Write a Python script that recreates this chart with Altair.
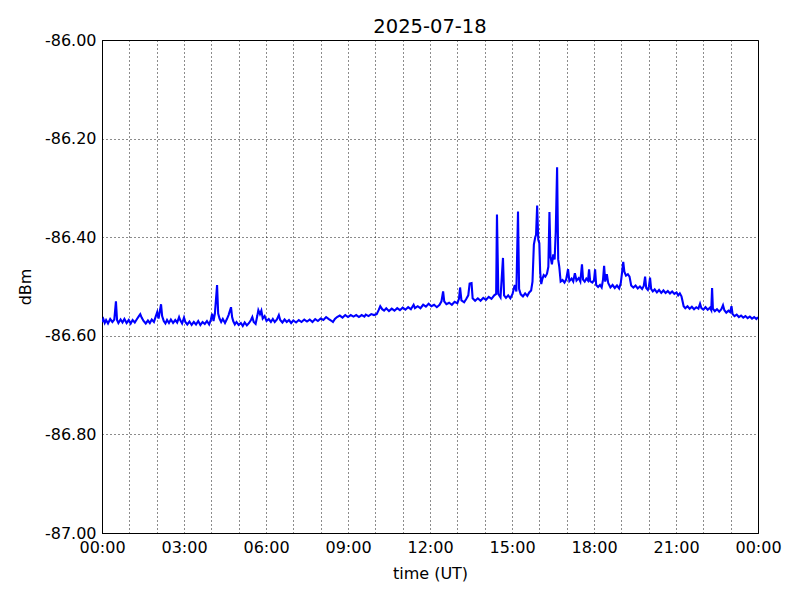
import altair as alt
import pandas as pd

# time of day (hours UT) and received level (dBm)
hours_a = [0.00, 0.05, 0.10, 0.15, 0.22, 0.30, 0.38, 0.45, 0.51, 0.55, 0.60, 0.68, 0.75, 0.82, 0.90, 0.98,
           1.05, 1.12, 1.20, 1.28, 1.35, 1.40, 1.45, 1.52, 1.60, 1.68, 1.75, 1.82, 1.90, 1.97, 2.02, 2.07,
           2.16, 2.20, 2.26, 2.32, 2.38, 2.45, 2.52, 2.60, 2.68, 2.75, 2.82, 2.86, 2.93, 3.00, 3.05, 3.12,
           3.20, 3.28, 3.36, 3.44, 3.52, 3.60, 3.68, 3.76, 3.84, 3.92, 3.98, 4.03, 4.08, 4.13, 4.21, 4.25,
           4.30, 4.36, 4.42, 4.50, 4.57, 4.63, 4.72, 4.76, 4.80, 4.86, 4.92, 5.00]
dbm_a = [-86.572, -86.566, -86.574, -86.568, -86.575, -86.566, -86.572, -86.567, -86.530, -86.568, -86.574, -86.567, -86.573, -86.566, -86.574, -86.568,
         -86.575, -86.568, -86.573, -86.566, -86.560, -86.556, -86.563, -86.570, -86.575, -86.569, -86.574, -86.567, -86.572, -86.560, -86.552, -86.565,
         -86.536, -86.560, -86.570, -86.575, -86.568, -86.574, -86.567, -86.574, -86.568, -86.573, -86.562, -86.568, -86.575, -86.563, -86.572, -86.577,
         -86.571, -86.578, -86.572, -86.577, -86.570, -86.578, -86.572, -86.576, -86.570, -86.577, -86.568, -86.555, -86.570, -86.555, -86.497, -86.555,
         -86.565, -86.572, -86.566, -86.574, -86.566, -86.558, -86.542, -86.562, -86.570, -86.577, -86.572, -86.578]

hours_b = [5.08, 5.15, 5.22, 5.30, 5.38, 5.45, 5.50, 5.55, 5.62, 5.68, 5.72, 5.78, 5.83, 5.88, 5.95, 6.02,
           6.10, 6.18, 6.25, 6.32, 6.40, 6.47, 6.52, 6.60, 6.68, 6.76, 6.84, 6.92, 7.00, 7.10, 7.20, 7.30,
           7.40, 7.50, 7.60, 7.70, 7.80, 7.90, 8.00, 8.10, 8.20, 8.30, 8.38, 8.45, 8.52, 8.60, 8.70, 8.80,
           8.90, 9.00, 9.10, 9.20, 9.30, 9.40, 9.50, 9.60, 9.65, 9.75, 9.85, 9.95]
dbm_b = [-86.574, -86.580, -86.573, -86.579, -86.574, -86.568, -86.562, -86.572, -86.576, -86.560, -86.548, -86.556, -86.549, -86.565, -86.560, -86.570,
         -86.566, -86.572, -86.566, -86.572, -86.567, -86.558, -86.568, -86.573, -86.567, -86.572, -86.568, -86.574, -86.569, -86.573, -86.568, -86.572,
         -86.567, -86.571, -86.567, -86.572, -86.566, -86.570, -86.565, -86.568, -86.562, -86.566, -86.569, -86.572, -86.566, -86.562, -86.559, -86.563,
         -86.558, -86.562, -86.558, -86.561, -86.558, -86.562, -86.558, -86.561, -86.557, -86.560, -86.556, -86.558]

hours_c = [10.05, 10.12, 10.18, 10.25, 10.32, 10.40, 10.50, 10.60, 10.70, 10.80, 10.90, 11.00, 11.10, 11.20, 11.30, 11.40,
           11.45, 11.55, 11.65, 11.75, 11.85, 11.95, 12.05, 12.15, 12.25, 12.35, 12.42, 12.48, 12.52, 12.60, 12.70, 12.80,
           12.90, 13.00, 13.06, 13.10, 13.15, 13.25, 13.32, 13.40, 13.45, 13.52, 13.56, 13.65, 13.75, 13.85, 13.95, 14.05,
           14.15, 14.25, 14.35, 14.42, 14.45, 14.50, 14.58, 14.67, 14.71, 14.78, 14.86, 14.94, 15.02, 15.10, 15.16, 15.22]
dbm_c = [-86.556, -86.548, -86.540, -86.546, -86.549, -86.544, -86.550, -86.545, -86.549, -86.544, -86.548, -86.543, -86.547, -86.542, -86.546, -86.537,
         -86.544, -86.540, -86.544, -86.537, -86.541, -86.535, -86.540, -86.537, -86.542, -86.537, -86.530, -86.510, -86.530, -86.536, -86.533, -86.537,
         -86.531, -86.534, -86.525, -86.502, -86.528, -86.532, -86.526, -86.518, -86.494, -86.493, -86.524, -86.529, -86.524, -86.529, -86.523, -86.527,
         -86.521, -86.525, -86.518, -86.515, -86.354, -86.515, -86.522, -86.442, -86.518, -86.523, -86.518, -86.524, -86.515, -86.497, -86.510, -86.348]

hours_d = [15.26, 15.32, 15.40, 15.48, 15.56, 15.63, 15.70, 15.75, 15.80, 15.85, 15.88, 15.92, 15.96, 16.00, 16.03, 16.07,
           16.11, 16.16, 16.22, 16.28, 16.33, 16.37, 16.41, 16.46, 16.51, 16.56, 16.60, 16.65, 16.69, 16.73, 16.78, 16.85,
           16.92, 16.98, 17.05, 17.10, 17.18, 17.24, 17.30, 17.36, 17.44, 17.50, 17.56, 17.60, 17.66, 17.72, 17.78, 17.82,
           17.86, 17.94, 18.00, 18.04, 18.08, 18.15, 18.22, 18.28, 18.33, 18.37, 18.41, 18.47, 18.52, 18.60, 18.68, 18.76,
           18.84, 18.92, 18.98, 19.03, 19.07, 19.11, 19.17, 19.24, 19.30, 19.36, 19.44, 19.52, 19.60, 19.68, 19.76, 19.82,
           19.87, 19.91, 19.97, 20.01, 20.05, 20.09]
dbm_d = [-86.505, -86.516, -86.520, -86.514, -86.519, -86.512, -86.508, -86.490, -86.415, -86.400, -86.395, -86.336, -86.405, -86.412, -86.470, -86.495,
         -86.485, -86.477, -86.480, -86.474, -86.460, -86.349, -86.440, -86.455, -86.435, -86.445, -86.390, -86.258, -86.445, -86.460, -86.490, -86.487,
         -86.492, -86.486, -86.465, -86.489, -86.484, -86.490, -86.473, -86.488, -86.483, -86.490, -86.455, -86.486, -86.490, -86.484, -86.488, -86.465,
         -86.489, -86.492, -86.487, -86.465, -86.497, -86.501, -86.497, -86.502, -86.486, -86.458, -86.490, -86.475, -86.493, -86.502, -86.497, -86.503,
         -86.498, -86.504, -86.493, -86.470, -86.450, -86.470, -86.478, -86.475, -86.480, -86.498, -86.502, -86.498, -86.504, -86.500, -86.505, -86.499,
         -86.480, -86.503, -86.507, -86.500, -86.482, -86.505]

hours_e = [20.15, 20.22, 20.30, 20.38, 20.46, 20.54, 20.62, 20.70, 20.78, 20.86, 20.94, 21.02, 21.08, 21.14, 21.20, 21.24,
           21.28, 21.34, 21.42, 21.50, 21.58, 21.66, 21.74, 21.82, 21.88, 21.93, 22.00, 22.08, 22.16, 22.24, 22.29, 22.32,
           22.35, 22.42, 22.50, 22.58, 22.66, 22.72, 22.77, 22.84, 22.92, 22.98, 23.03, 23.07, 23.14, 23.22, 23.30, 23.38,
           23.46, 23.54, 23.62, 23.70, 23.78, 23.86, 23.94, 24.00]
dbm_e = [-86.510, -86.506, -86.512, -86.507, -86.513, -86.508, -86.513, -86.509, -86.514, -86.510, -86.515, -86.512, -86.518, -86.514, -86.520, -86.530,
         -86.540, -86.544, -86.540, -86.545, -86.541, -86.546, -86.542, -86.545, -86.535, -86.544, -86.547, -86.542, -86.547, -86.543, -86.548, -86.503,
         -86.545, -86.550, -86.546, -86.551, -86.546, -86.538, -86.548, -86.553, -86.549, -86.552, -86.540, -86.556, -86.560, -86.557, -86.562, -86.559,
         -86.563, -86.560, -86.564, -86.561, -86.565, -86.562, -86.566, -86.562]

hour_ticks = list(range(0, 25))
dbm_ticks = [-87.0, -86.8, -86.6, -86.4, -86.2, -86.0]

df = pd.DataFrame({
    "hour": hours_a + hours_b + hours_c + hours_d + hours_e,
    "dbm": dbm_a + dbm_b + dbm_c + dbm_d + dbm_e,
})

x_label_expr = ("datum.value % 3 == 0 ? ((datum.value % 24) < 10 ? '0' : '') + "
                "(datum.value % 24) + ':00' : ''")

chart = alt.Chart(df).mark_line(color="#0000ff", strokeWidth=2.1, clip=True).encode(
    x=alt.X(
        "hour:Q",
        scale=alt.Scale(domain=[0, 24], nice=False, zero=False),
        axis=alt.Axis(
            values=hour_ticks,
            labelExpr=x_label_expr,
            title="time (UT)",
            labelOverlap=False,
            labelFlush=False,
            labelPadding=6,
            titlePadding=10,
        ),
    ),
    y=alt.Y(
        "dbm:Q",
        scale=alt.Scale(domain=[-87, -86], nice=False, zero=False),
        axis=alt.Axis(
            values=dbm_ticks,
            labelExpr="replace(format(datum.value, '.2f'), '\u2212', '-')",
            title="dBm",
            labelOverlap=False,
            labelFlush=False,
            labelPadding=6,
            titlePadding=11,
        ),
    ),
).properties(
    width=656,
    height=493,
    title=alt.TitleParams("2025-07-18", fontSize=19.5, fontWeight="normal", offset=-5, color="black"),
    autosize=alt.AutoSizeParams(type="none"),
    padding={"left": 94, "top": 32, "right": 34, "bottom": 59},
).configure(
    font="DejaVu Sans",
    background="white",
).configure_view(
    stroke="black",
    strokeWidth=1,
).configure_axis(
    domainColor="black",
    domainWidth=1,
    ticks=False,
    grid=True,
    gridColor="black",
    gridDash=[1, 3],
    gridWidth=1,
    gridOpacity=0.9,
    labelFont="DejaVu Sans",
    labelFontSize=16,
    labelColor="black",
    titleFont="DejaVu Sans",
    titleFontSize=16,
    titleFontWeight="normal",
    titleColor="black",
)

chart.save("out.html", embed_options={"renderer": "svg", "actions": False})
